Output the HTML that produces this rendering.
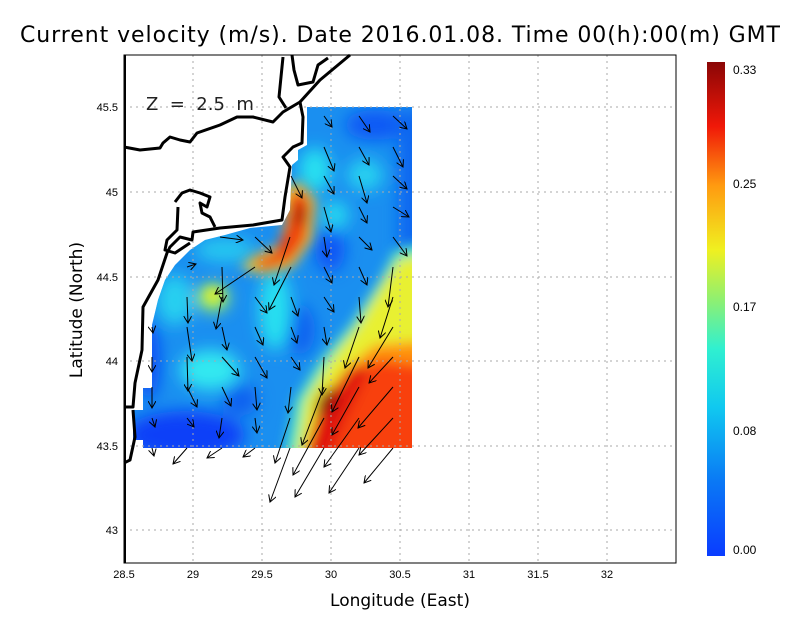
<!DOCTYPE html>
<html><head><meta charset="utf-8"><style>
body{margin:0;background:#fff;width:800px;height:618px;overflow:hidden;font-family:"DejaVu Sans","Liberation Sans",sans-serif}
</style></head><body>
<svg width="800" height="618" viewBox="0 0 800 618" xmlns="http://www.w3.org/2000/svg">
<defs>
<clipPath id="fc"><polygon points="307,107 412,107 412,448 143,448 143,440 133,440 133,410 143,410 143,388 152,388 152,325 158,300 165,280 175,265 190,250 205,240 225,235 250,228 282,225 290,210 292,165 298,160 298,150 307,145"/></clipPath>
<filter id="b1" x="-50%" y="-50%" width="200%" height="200%"><feGaussianBlur stdDeviation="8"/></filter>
<filter id="b2" x="-50%" y="-50%" width="200%" height="200%"><feGaussianBlur stdDeviation="6"/></filter>
<linearGradient id="cb" x1="0" y1="1" x2="0" y2="0">
<stop offset="0" stop-color="#0a3cff"/><stop offset="0.15" stop-color="#0a78f5"/><stop offset="0.3" stop-color="#10c8f0"/><stop offset="0.42" stop-color="#30f0d0"/><stop offset="0.52" stop-color="#90f070"/><stop offset="0.62" stop-color="#f0f020"/><stop offset="0.75" stop-color="#ff9a10"/><stop offset="0.87" stop-color="#f01808"/><stop offset="1" stop-color="#8a0606"/></linearGradient>
<marker id="ah" markerWidth="8" markerHeight="8" refX="7" refY="4" orient="auto" markerUnits="userSpaceOnUse"><path d="M0,0 L7,4 L0,8" fill="none" stroke="#000" stroke-width="1"/></marker>
</defs>
<text x="400" y="42" font-size="22" text-anchor="middle" font-family="DejaVu Sans" textLength="760">Current velocity (m/s). Date 2016.01.08. Time 00(h):00(m) GMT</text>
<g clip-path="url(#fc)">
<rect x="100" y="80" width="340" height="400" fill="#1a8ff0"/>
<g filter="url(#b1)">
<ellipse cx="375" cy="125" rx="30" ry="15" fill="#0a58f5"/>
<rect x="398" y="110" width="40" height="140" fill="#0a68f0"/>
<ellipse cx="330" cy="250" rx="15" ry="22" fill="#0a55f5"/>
<ellipse cx="300" cy="330" rx="15" ry="25" fill="#0a60f0"/>
<ellipse cx="185" cy="435" rx="60" ry="24" fill="#0a40f8"/>
<ellipse cx="148" cy="360" rx="12" ry="40" fill="#0a50f5"/>
<ellipse cx="240" cy="400" rx="18" ry="16" fill="#0a60f0"/>
<ellipse cx="315" cy="170" rx="16" ry="22" fill="#28e0f0"/>
<ellipse cx="365" cy="175" rx="18" ry="16" fill="#28d0f0"/>
<ellipse cx="335" cy="215" rx="14" ry="14" fill="#28d8f0"/>
<ellipse cx="275" cy="310" rx="16" ry="40" fill="#28e0f0"/>
<ellipse cx="210" cy="370" rx="30" ry="20" fill="#30e8f0"/>
<ellipse cx="175" cy="300" rx="18" ry="25" fill="#28d0f0"/>
<ellipse cx="225" cy="250" rx="30" ry="12" fill="#28c8f0"/>
<ellipse cx="213" cy="298" rx="16" ry="14" fill="#a0f060"/>
</g>
<g filter="url(#b2)">
<polygon points="440,240 440,480 280,480 295,400 320,360 350,325 380,280 395,250" fill="#50e8c0"/>
<polygon points="440,255 440,480 292,480 305,400 330,360 358,325 385,280 400,258" fill="#e8f030"/>
<ellipse cx="213" cy="295" rx="8" ry="7" fill="#f0f020"/>
<polygon points="440,340 440,480 300,480 318,405 345,370 375,345" fill="#ff9010"/>
<polygon points="440,368 440,480 308,480 322,410 348,375 380,360" fill="#f84010"/>
<polygon points="352,365 370,368 345,420 325,470 300,470 318,410" fill="#e01808"/>
<ellipse cx="327" cy="402" rx="9" ry="16" transform="rotate(30 327 402)" fill="#9a0808"/>
<polygon points="280,190 300,182 316,200 312,240 292,268 262,274 240,268 255,255 280,245 285,220" fill="#f0d030"/>
<polygon points="290,193 303,190 311,205 306,240 290,262 262,270 252,262 275,252 286,228" fill="#f04010"/>
<ellipse cx="300" cy="215" rx="5" ry="12" fill="#980808"/>
</g>
</g>
<g stroke="#aaa" stroke-dasharray="2,4" stroke-width="1">
<line x1="193" y1="55" x2="193" y2="563"/><line x1="262" y1="55" x2="262" y2="563"/><line x1="331" y1="55" x2="331" y2="563"/><line x1="400" y1="55" x2="400" y2="563"/><line x1="469" y1="55" x2="469" y2="563"/><line x1="538" y1="55" x2="538" y2="563"/><line x1="607" y1="55" x2="607" y2="563"/>
<line x1="124" y1="107" x2="676" y2="107"/><line x1="124" y1="192" x2="676" y2="192"/><line x1="124" y1="277" x2="676" y2="277"/><line x1="124" y1="361" x2="676" y2="361"/><line x1="124" y1="446" x2="676" y2="446"/><line x1="124" y1="530" x2="676" y2="530"/>
</g>
<g fill="none" stroke="#000" stroke-width="3" stroke-linejoin="round">
<polyline points="124,147 140,150 160,148 163,143 170,137 180,140 190,142 197,133 220,125 237,117 253,117 273,122 283,112 300,102 320,80 350,55"/>
<polyline points="283,57 279,97 286,108"/>
<polyline points="292,55 294,70 298,85 313,82 318,65 328,58"/>
<polyline points="300,102 303,117 302,143 293,147 283,157 290,167 285,197 282,220 253,225 220,228 193,232 192,240 180,237 170,247 167,253 158,280 143,307 142,350 135,383 133,407 124,407"/>
<polyline points="133,410 135,437 130,460 124,463"/>
<polyline points="175,202 182,193 190,190 200,193 210,197 207,207 200,203 202,213 210,217 215,227"/>
<polyline points="178,207 177,230 167,240 165,250 175,253 190,243"/>
</g>
<g stroke="#000" stroke-width="1" fill="none" marker-end="url(#ah)">
<line x1="324" y1="116" x2="332" y2="127"/><line x1="359" y1="116" x2="370" y2="132"/><line x1="393" y1="116" x2="407" y2="129"/>
<line x1="324" y1="147" x2="334" y2="171"/><line x1="359" y1="147" x2="369" y2="165"/><line x1="393" y1="147" x2="403" y2="167"/>
<line x1="291" y1="176" x2="302" y2="198"/><line x1="324" y1="176" x2="334" y2="194"/><line x1="359" y1="176" x2="367" y2="203"/><line x1="393" y1="176" x2="407" y2="189"/>
<line x1="290" y1="237" x2="274" y2="285"/><line x1="324" y1="207" x2="331" y2="232"/><line x1="359" y1="207" x2="367" y2="223"/><line x1="393" y1="207" x2="409" y2="217"/>
<line x1="220" y1="237" x2="243" y2="240"/><line x1="255" y1="237" x2="272" y2="253"/><line x1="324" y1="237" x2="327" y2="257"/><line x1="359" y1="237" x2="372" y2="250"/><line x1="393" y1="237" x2="407" y2="256"/>
<line x1="187" y1="267" x2="196" y2="264"/><line x1="222" y1="267" x2="223" y2="302"/><line x1="255" y1="267" x2="215" y2="294"/><line x1="291" y1="267" x2="269" y2="310"/><line x1="324" y1="267" x2="332" y2="283"/><line x1="359" y1="267" x2="367" y2="285"/><line x1="393" y1="267" x2="388" y2="307"/>
<line x1="187" y1="297" x2="188" y2="323"/><line x1="222" y1="297" x2="216" y2="329"/><line x1="255" y1="297" x2="267" y2="313"/><line x1="291" y1="297" x2="298" y2="316"/><line x1="324" y1="297" x2="334" y2="312"/><line x1="359" y1="297" x2="361" y2="323"/><line x1="393" y1="297" x2="380" y2="338"/>
<line x1="152" y1="327" x2="153" y2="333"/><line x1="187" y1="327" x2="192" y2="361"/><line x1="222" y1="327" x2="227" y2="350"/><line x1="255" y1="327" x2="263" y2="345"/><line x1="291" y1="327" x2="297" y2="343"/><line x1="324" y1="327" x2="327" y2="345"/><line x1="359" y1="327" x2="345" y2="368"/><line x1="393" y1="327" x2="368" y2="368"/>
<line x1="152" y1="357" x2="152" y2="372"/><line x1="187" y1="357" x2="188" y2="391"/><line x1="222" y1="357" x2="239" y2="376"/><line x1="255" y1="357" x2="267" y2="378"/><line x1="291" y1="357" x2="300" y2="370"/><line x1="324" y1="357" x2="322" y2="395"/><line x1="359" y1="357" x2="332" y2="412"/><line x1="393" y1="357" x2="369" y2="383"/>
<line x1="152" y1="387" x2="152" y2="408"/><line x1="187" y1="387" x2="197" y2="407"/><line x1="222" y1="387" x2="231" y2="406"/><line x1="255" y1="387" x2="257" y2="410"/><line x1="291" y1="387" x2="288" y2="413"/><line x1="324" y1="387" x2="302" y2="445"/><line x1="359" y1="387" x2="332" y2="435"/><line x1="393" y1="387" x2="358" y2="428"/>
<line x1="152" y1="418" x2="155" y2="427"/><line x1="187" y1="418" x2="194" y2="427"/><line x1="222" y1="418" x2="219" y2="438"/><line x1="255" y1="418" x2="257" y2="433"/><line x1="290" y1="418" x2="275" y2="463"/><line x1="324" y1="418" x2="293" y2="475"/><line x1="359" y1="418" x2="324" y2="467"/><line x1="393" y1="418" x2="359" y2="455"/>
<line x1="152" y1="448" x2="154" y2="456"/><line x1="187" y1="448" x2="173" y2="464"/><line x1="222" y1="448" x2="207" y2="458"/><line x1="255" y1="448" x2="243" y2="457"/><line x1="290" y1="448" x2="270" y2="502"/><line x1="324" y1="448" x2="295" y2="497"/><line x1="359" y1="448" x2="329" y2="493"/><line x1="393" y1="448" x2="364" y2="483"/>
</g>
<rect x="124" y="55" width="552" height="508" fill="none" stroke="#000" stroke-width="1"/>
<rect x="124" y="55" width="2" height="508" fill="#000"/>
<text x="146" y="110" font-size="18" font-family="DejaVu Sans" fill="#222" xml:space="preserve">Z  =  2.5  m</text>
<g font-size="11" font-family="Liberation Sans" text-anchor="end">
<text x="118" y="111">45.5</text><text x="118" y="196">45</text><text x="118" y="281">44.5</text><text x="118" y="365">44</text><text x="118" y="450">43.5</text><text x="118" y="534">43</text>
</g>
<g font-size="11" font-family="Liberation Sans" text-anchor="middle">
<text x="124" y="578">28.5</text><text x="193" y="578">29</text><text x="262" y="578">29.5</text><text x="331" y="578">30</text><text x="400" y="578">30.5</text><text x="469" y="578">31</text><text x="538" y="578">31.5</text><text x="607" y="578">32</text>
</g>
<text x="400" y="606" font-size="17" text-anchor="middle" font-family="DejaVu Sans">Longitude (East)</text>
<text transform="translate(82,310) rotate(-90)" font-size="17" text-anchor="middle" font-family="DejaVu Sans">Latitude (North)</text>
<rect x="707" y="62" width="18" height="494" fill="url(#cb)"/>
<g font-size="12" font-family="Liberation Sans">
<text x="733" y="74">0.33</text><text x="733" y="188">0.25</text><text x="733" y="311">0.17</text><text x="733" y="435">0.08</text><text x="733" y="554">0.00</text>
</g>
</svg>
</body></html>
